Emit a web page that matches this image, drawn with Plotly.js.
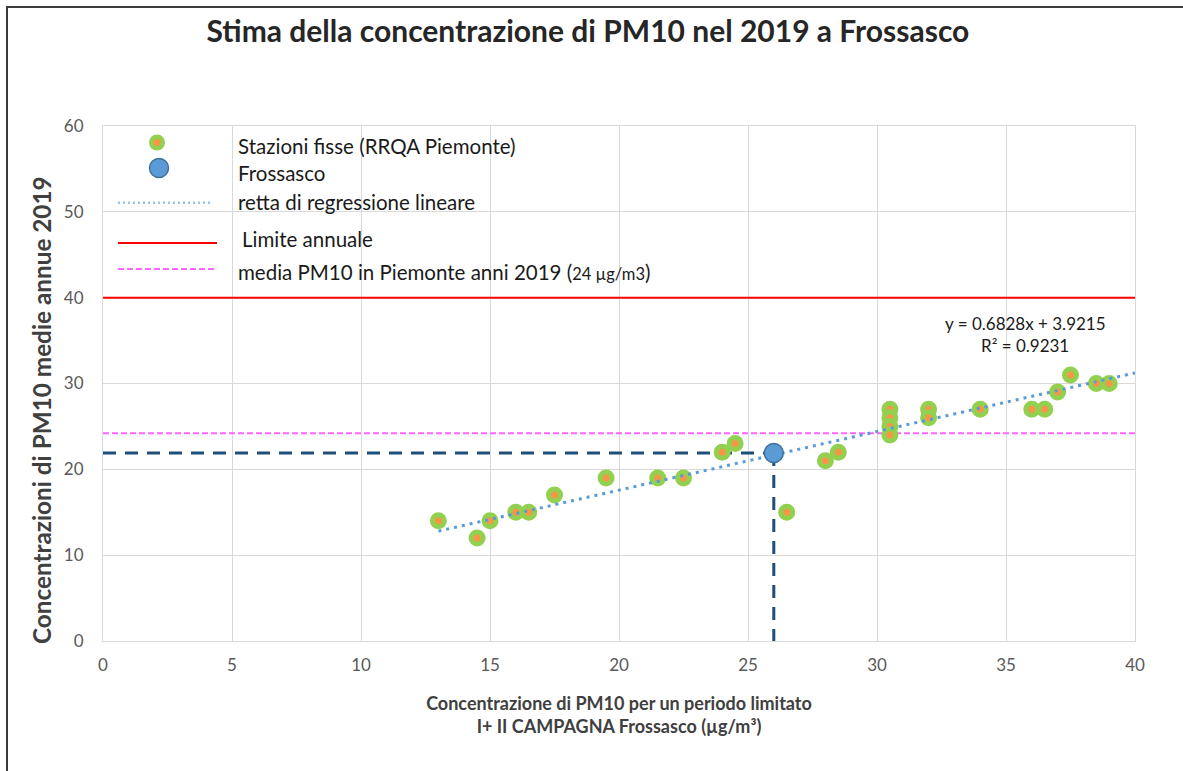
<!DOCTYPE html>
<html>
<head>
<meta charset="utf-8">
<script src="https://cdn.plot.ly/plotly-3.0.1.min.js"></script>
<style>
  html, body { margin: 0; padding: 0; background: #ffffff; }
  #chart { width: 1183px; height: 771px; position: relative; }
  #frame { position: absolute; left: 6px; top: 6px; width: 1190px; height: 780px;
           border-top: 2px solid #3a3a3a; border-left: 2px solid #3a3a3a; pointer-events: none; }
</style>
</head>
<body>
<div id="chart"></div>
<div id="frame"></div>
<script>
// ---- Data ----
const stazX = [13, 14.5, 15, 16, 16.5, 17.5, 19.5, 21.5, 22.5, 24, 24.5, 26.5, 28, 28.5,
               30.5, 30.5, 30.5, 30.5, 32, 32, 34, 36, 36.5, 37, 37.5, 38.5, 39];
const stazY = [14, 12, 14, 15, 15, 17, 19, 19, 19, 22, 23, 15, 21, 22,
               27, 26, 25, 24, 27, 26, 27, 27, 27, 29, 31, 30, 30];
const frossX = [26];
const frossY = [21.9];
const regSlope = 0.6828;
const regIntercept = 3.9215;
const regR2 = 0.9231;
const regXRange = [13, 40];
const limiteAnnuale = 40;
const mediaPiemonte = 24.2;
const xRange = [0, 40];
const yRange = [0, 60];

const FONT = 'Lato, "Liberation Sans", sans-serif';

const traces = [
  { // media Piemonte
    x: xRange, y: [mediaPiemonte, mediaPiemonte], mode: 'lines',
    line: { color: '#FF66FF', width: 2, dash: '6px,3px' }, showlegend: false, hoverinfo: 'skip'
  },
  { // limite annuale
    x: xRange, y: [limiteAnnuale, limiteAnnuale], mode: 'lines',
    line: { color: '#FF0000', width: 2 }, showlegend: false, hoverinfo: 'skip'
  },
  { // horizontal guide to Frossasco
    x: [xRange[0], frossX[0]], y: [frossY[0], frossY[0]], mode: 'lines',
    line: { color: '#1F4E79', width: 3, dash: '13px,9px' }, showlegend: false, hoverinfo: 'skip'
  },
  { // vertical guide to Frossasco
    x: [frossX[0], frossX[0]], y: [frossY[0], yRange[0]], mode: 'lines',
    line: { color: '#1F4E79', width: 3, dash: '13px,9px' }, showlegend: false, hoverinfo: 'skip'
  },
  { // stations
    x: stazX, y: stazY, mode: 'markers',
    marker: { size: 12, color: '#F79646', line: { color: '#92D050', width: 5 } },
    showlegend: false
  },
  { // regression line
    x: regXRange, y: regXRange.map(v => regSlope * v + regIntercept), mode: 'lines',
    line: { color: '#5B9BD5', width: 3, dash: '3px,5px' }, showlegend: false, hoverinfo: 'skip'
  },
  { // Frossasco
    x: frossX, y: frossY, mode: 'markers',
    marker: { size: 19, color: '#5B9BD5', line: { color: '#41719C', width: 1.5 } },
    showlegend: false
  }
];

// pixel -> paper helpers for legend placement
const PL = 103, PR = 1135, PT = 126, PB = 641;
const px = v => (v - PL) / (PR - PL);
const py = v => (PB - v) / (PB - PT);

const legendText = [
  { t: 'Stazioni fisse (RRQA Piemonte)', x: 236, y: 146 },
  { t: 'Frossasco', x: 236, y: 173 },
  { t: 'retta di regressione lineare', x: 236, y: 202 },
  { t: 'Limite annuale', x: 240, y: 239 },
  { t: 'media PM10 in Piemonte anni 2019 (<span style="font-size:16.5px">24 µg/m3</span>)', x: 236, y: 272 }
];

const annotations = legendText.map(o => ({
  xref: 'paper', yref: 'paper', x: px(o.x), y: py(o.y), xanchor: 'left', yanchor: 'middle',
  text: o.t, showarrow: false, font: { family: FONT, size: 20.5, color: '#1a1a1a' }
}));

annotations.push(
  { xref: 'paper', yref: 'paper', x: px(1025), y: py(323), xanchor: 'center', yanchor: 'middle',
    text: 'y = ' + regSlope + 'x + ' + regIntercept, showarrow: false,
    font: { family: FONT, size: 17, color: '#1a1a1a' } },
  { xref: 'paper', yref: 'paper', x: px(1025), y: py(345), xanchor: 'center', yanchor: 'middle',
    text: 'R² = ' + regR2, showarrow: false,
    font: { family: FONT, size: 17, color: '#1a1a1a' } },
  { xref: 'paper', yref: 'paper', x: px(41), y: py(410), xanchor: 'center', yanchor: 'middle',
    textangle: -90, text: '<b>Concentrazioni di PM10 medie annue 2019</b>', showarrow: false,
    font: { family: FONT, size: 24.3, color: '#404040' } }
);

const shapes = [
  // legend samples
  { type: 'circle', xref: 'paper', yref: 'paper', xsizemode: 'pixel', ysizemode: 'pixel',
    xanchor: px(157), yanchor: py(142.5), x0: -8, x1: 8, y0: -8, y1: 8,
    fillcolor: '#92D050', line: { width: 0 } },
  { type: 'circle', xref: 'paper', yref: 'paper', xsizemode: 'pixel', ysizemode: 'pixel',
    xanchor: px(157), yanchor: py(142.5), x0: -3.5, x1: 3.5, y0: -3.5, y1: 3.5,
    fillcolor: '#F79646', line: { width: 0 } },
  { type: 'circle', xref: 'paper', yref: 'paper', xsizemode: 'pixel', ysizemode: 'pixel',
    xanchor: px(159), yanchor: py(168), x0: -9.5, x1: 9.5, y0: -9.5, y1: 9.5,
    fillcolor: '#5B9BD5', line: { color: '#41719C', width: 1.5 } },
  { type: 'line', xref: 'paper', yref: 'paper', x0: px(118), x1: px(213), y0: py(202.7), y1: py(202.7),
    line: { color: '#9DC3E6', width: 2.5, dash: '2px,3px' } },
  { type: 'line', xref: 'paper', yref: 'paper', x0: px(118), x1: px(217), y0: py(243), y1: py(243),
    line: { color: '#FF0000', width: 2 } },
  { type: 'line', xref: 'paper', yref: 'paper', x0: px(118), x1: px(217), y0: py(269), y1: py(269),
    line: { color: '#FF66FF', width: 2, dash: '6px,3px' } }
];

const layout = {
  width: 1183, height: 771,
  margin: { l: PL, r: 1183 - PR, t: PT, b: 771 - PB, pad: 0 },
  paper_bgcolor: '#ffffff', plot_bgcolor: '#ffffff',
  showlegend: false,
  hovermode: false,
  title: {
    text: '<b>Stima della concentrazione di PM10 nel 2019 a Frossasco</b>',
    x: 0.497, xanchor: 'center', y: 1 - 31 / 771, yanchor: 'middle', yref: 'container',
    font: { family: FONT, size: 30, color: '#262626' }
  },
  xaxis: {
    range: xRange, dtick: 5, tick0: 0, showgrid: true, gridcolor: '#D9D9D9', gridwidth: 1,
    zeroline: false, showline: true, mirror: true, linecolor: '#D9D9D9', linewidth: 1,
    ticks: '', ticklabelstandoff: 9,
    tickfont: { family: FONT, size: 17, color: '#595959' },
    title: {
      text: '<b>Concentrazione di PM10 per un periodo limitato<br>I+ II CAMPAGNA Frossasco (µg/m³)</b>',
      standoff: 22, font: { family: FONT, size: 18, color: '#404040' }
    },
    automargin: false, fixedrange: true
  },
  yaxis: {
    range: yRange, dtick: 10, tick0: 0, showgrid: true, gridcolor: '#D9D9D9', gridwidth: 1,
    zeroline: false, showline: true, mirror: true, linecolor: '#D9D9D9', linewidth: 1,
    ticks: '', ticklabelstandoff: 15,
    tickfont: { family: FONT, size: 17, color: '#595959' },
    automargin: false, fixedrange: true
  },
  annotations: annotations,
  shapes: shapes
};

Plotly.newPlot('chart', traces, layout, { displayModeBar: false, staticPlot: true });
</script>
</body>
</html>
